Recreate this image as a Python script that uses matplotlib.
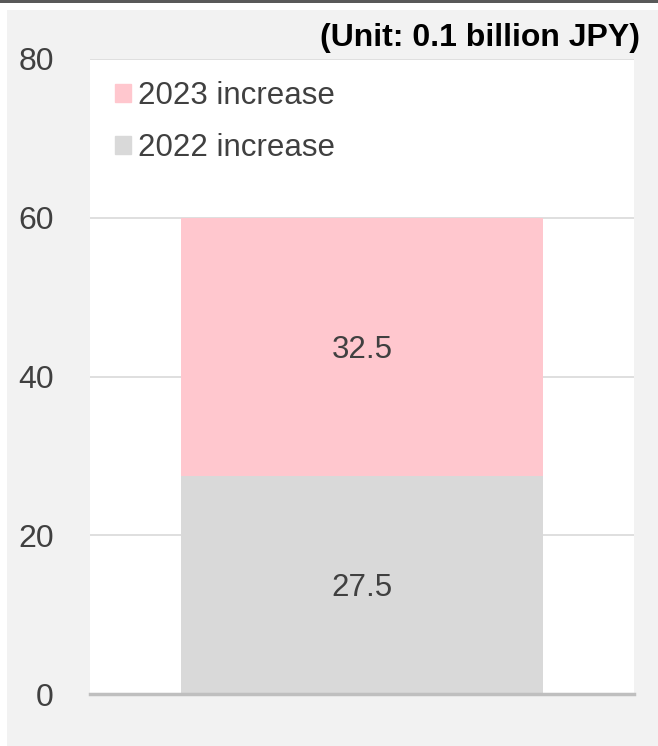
import matplotlib.pyplot as plt
from matplotlib.patches import Patch, Rectangle

plt.rcParams['font.family'] = ['Liberation Sans', 'DejaVu Sans']

# data
series = ['2022 increase', '2023 increase']
values = [27.5, 32.5]
colors = ['#d9d9d9', '#ffc7ce']
yticks = [0, 20, 40, 60, 80]
unit_label = '(Unit: 0.1 billion JPY)'

fig = plt.figure(figsize=(6.58, 7.46), dpi=100)
fig.patch.set_facecolor('white')

# grey panel and dark top rule
fig.add_artist(Rectangle((7 / 658, 0), 1, 736 / 746, transform=fig.transFigure,
                         facecolor='#f2f2f2', edgecolor='none', zorder=0))
fig.add_artist(Rectangle((0, 743 / 746), 1, 3 / 746, transform=fig.transFigure,
                         facecolor='#595959', edgecolor='none', zorder=0))

ax = fig.add_axes([90 / 658, 52 / 746, 544 / 658, 635 / 746])
ax.set_facecolor('white')

bottom = 0
for name, v, c in zip(series, values, colors):
    ax.bar(0, v, width=0.665, bottom=bottom, color=c, label=name, zorder=2)
    ax.text(0, bottom + v / 2, f'{v}', ha='center', va='center_baseline',
            fontsize=22.5, color='#404040', zorder=3)
    bottom += v

ax.set_xlim(-0.5, 0.5)
ax.set_ylim(0, 80)
ax.set_yticks(yticks)
ax.set_yticklabels([str(t) for t in yticks], fontsize=23, color='#404040')
ax.tick_params(axis='y', length=0, pad=26)
ax.set_xticks([])
ax.grid(axis='y', color='#d9d9d9', linewidth=1.2, zorder=1)
for s in ['top', 'right', 'left']:
    ax.spines[s].set_visible(False)
ax.spines['bottom'].set_color('#bfbfbf')
ax.spines['bottom'].set_linewidth(2.5)
ax.spines['bottom'].set_zorder(4)

handles = [Patch(color=colors[1]), Patch(color=colors[0])]
ax.legend(handles, [series[1], series[0]], loc='upper left',
          bbox_to_anchor=(25 / 544, (694 - 81) / 635), frameon=False,
          fontsize=22.5, borderpad=0, borderaxespad=0,
          handlelength=0.51, handleheight=0.51, handletextpad=0.22,
          labelspacing=0.7, labelcolor='#404040')

fig.text(640 / 658, 708 / 746, unit_label, ha='right', va='center',
         fontsize=23, fontweight='bold', color='black')

fig.savefig('out.png', dpi=100)
